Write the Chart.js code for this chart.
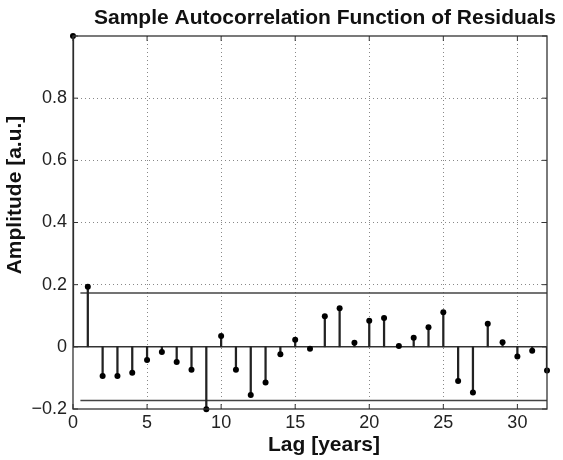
<!DOCTYPE html>
<html>
<head>
<meta charset="utf-8">
<script src="https://cdn.jsdelivr.net/npm/chart.js@4.4.1/dist/chart.umd.min.js"></script>
<style>
  body { margin: 0; background: #fff; }
  #wrap { width: 563px; height: 460px; }
</style>
</head>
<body>
<div id="wrap"><canvas id="acfChart" width="563" height="460"></canvas></div>
<script>
// Lags (years) and sample autocorrelation of residuals
const lags = [0, 1, 2, 3, 4, 5, 6, 7, 8, 9, 10, 11, 12, 13, 14, 15, 16,
    17, 18, 19, 20, 21, 22, 23, 24, 25, 26, 27, 28, 29, 30, 31, 32];
const acfValues = [1.0, 0.193, -0.094, -0.094, -0.083, -0.042, -0.017, -0.049, -0.074, -0.201,
    0.035, -0.074, -0.155, -0.115, -0.024, 0.023, -0.006, 0.098, 0.124, 0.013,
    0.084, 0.093, 0.003, 0.029, 0.063, 0.111, -0.110, -0.147, 0.074, 0.015,
    -0.031, -0.013, -0.076];

// Confidence bounds (approx. 95%)
const boundLags = [0.5, 32];
const upperBound = [0.173, 0.173];
const lowerBound = [-0.173, -0.173];
const zeroLags = [0, 32];
const zeroLine = [0, 0];

const xTicks = [0, 5, 10, 15, 20, 25, 30];
const yTicks = [-0.2, 0, 0.2, 0.4, 0.6, 0.8, 1.0];

const FONT = "'Liberation Sans', Arial, Helvetica, sans-serif";
const AXIS_COLOR = '#333';

function toPoints(xs, ys) {
    return xs.map((x, i) => ({ x: x, y: ys[i] }));
}

// Cadre, graduations intérieures et textes façon MATLAB
const frameAndLabels = {
    id: 'frameAndLabels',
    afterDraw(chart) {
        const ctx = chart.ctx;
        const area = chart.chartArea;
        const xs = chart.scales.x;
        const ys = chart.scales.y;
        ctx.save();
        ctx.strokeStyle = AXIS_COLOR;
        ctx.lineWidth = 1.3;
        ctx.strokeRect(area.left, area.top, area.right - area.left, area.bottom - area.top);

        // inward ticks
        const len = 5;
        ctx.lineWidth = 1;
        ctx.beginPath();
        xTicks.forEach(v => {
            const px = xs.getPixelForValue(v);
            ctx.moveTo(px, area.bottom); ctx.lineTo(px, area.bottom - len);
            ctx.moveTo(px, area.top); ctx.lineTo(px, area.top + len);
        });
        yTicks.forEach(v => {
            const py = ys.getPixelForValue(v);
            ctx.moveTo(area.left, py); ctx.lineTo(area.left + len, py);
            ctx.moveTo(area.right, py); ctx.lineTo(area.right - len, py);
        });
        ctx.stroke();

        // titles
        ctx.fillStyle = '#111';
        ctx.font = 'bold 21px ' + FONT;
        ctx.textAlign = 'center';
        ctx.textBaseline = 'alphabetic';
        ctx.fillText('Sample Autocorrelation Function of Residuals', 325, 24);
        ctx.fillText('Lag [years]', 324, 451);

        ctx.translate(15, 195);
        ctx.rotate(-Math.PI / 2);
        ctx.textBaseline = 'middle';
        ctx.fillText('Amplitude [a.u.]', 0, 0);
        ctx.restore();
    }
};

function xGridColor(c) {
    const v = c.tick ? c.tick.value : 0;
    return (v <= 0 || v >= 32) ? 'rgba(0,0,0,0)' : '#888';
}

function yGridColor(c) {
    const v = c.tick ? c.tick.value : 0;
    return (Math.abs(v) < 1e-9 || v <= -0.19 || v >= 0.99) ? 'rgba(0,0,0,0)' : '#888';
}

const ctx = document.getElementById('acfChart').getContext('2d');
const acfChart = new Chart(ctx, {
    type: 'scatter',
    data: {
        datasets: [
            {
                type: 'scatter',
                data: toPoints(lags, acfValues),
                pointRadius: 3,
                pointBackgroundColor: '#000',
                pointBorderColor: '#000',
                pointBorderWidth: 0,
                clip: false,
                order: 0
            },
            {
                type: 'bar',
                data: toPoints(lags, acfValues),
                backgroundColor: '#222',
                barThickness: 1.6,
                order: 1
            },
            {
                type: 'line',
                data: toPoints(zeroLags, zeroLine),
                borderColor: '#333',
                borderWidth: 1.5,
                pointRadius: 0,
                order: 2
            },
            {
                type: 'line',
                data: toPoints(boundLags, upperBound),
                borderColor: '#444',
                borderWidth: 1.5,
                pointRadius: 0,
                order: 2
            },
            {
                type: 'line',
                data: toPoints(boundLags, lowerBound),
                borderColor: '#444',
                borderWidth: 1.5,
                pointRadius: 0,
                order: 2
            }
        ]
    },
    options: {
        responsive: false,
        animation: false,
        events: [],
        layout: {
            padding: { left: 0, top: 36, right: 16, bottom: 0 }
        },
        plugins: {
            legend: { display: false },
            tooltip: { enabled: false }
        },
        scales: {
            x: {
                type: 'linear',
                min: 0,
                max: 32,
                offset: false,
                afterFit: s => { s.height = 51; },
                ticks: {
                    stepSize: 5,
                    includeBounds: false,
                    color: '#222',
                    padding: 3,
                    maxRotation: 0,
                    font: { family: FONT, size: 18 }
                },
                grid: {
                    offset: false,
                    drawTicks: false,
                    color: xGridColor,
                    lineWidth: 1
                },
                border: { display: false, dash: [1, 3] }
            },
            y: {
                min: -0.2,
                max: 1.0,
                afterFit: s => { s.width = 73; },
                ticks: {
                    stepSize: 0.2,
                    color: '#222',
                    padding: 6,
                    font: { family: FONT, size: 18 },
                    callback: v => {
                        if (v > 0.99) return '';
                        if (Math.abs(v) < 1e-9) return '0';
                        return v.toFixed(1).replace('-', '\u2212');
                    }
                },
                grid: {
                    drawTicks: false,
                    color: yGridColor,
                    lineWidth: 1
                },
                border: { display: false, dash: [1, 3] }
            }
        }
    },
    plugins: [frameAndLabels]
});
</script>
</body>
</html>
